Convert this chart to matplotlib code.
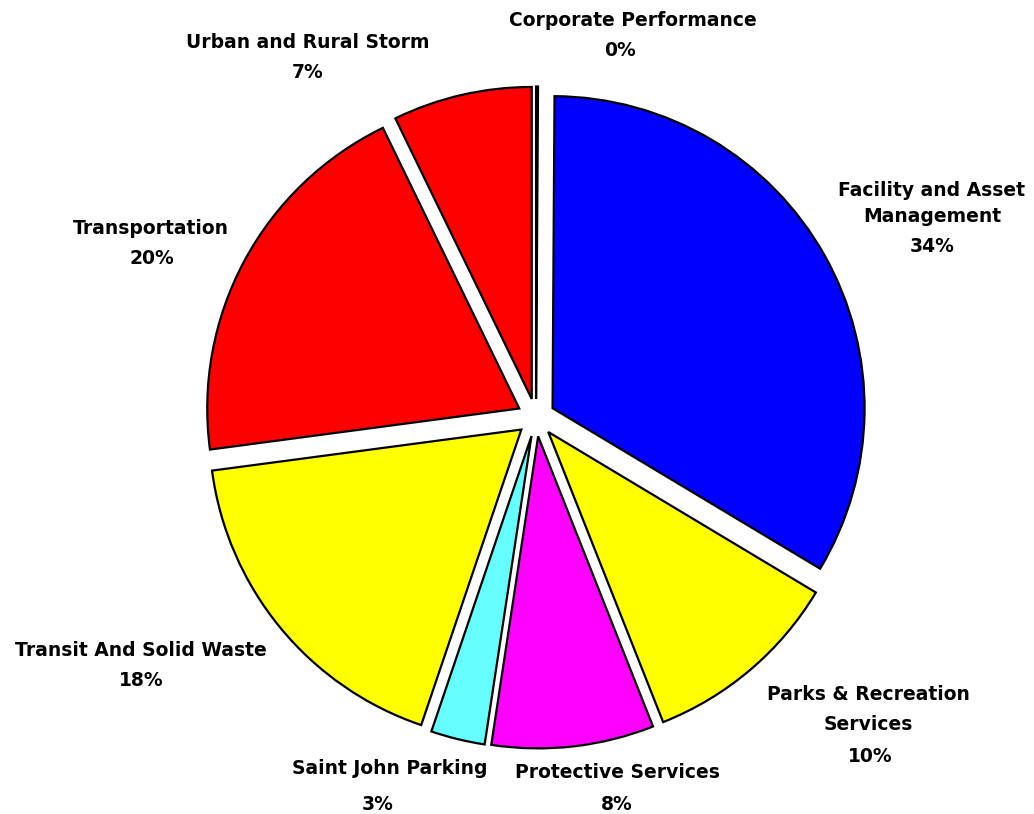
import matplotlib
matplotlib.use("Agg")
import matplotlib.pyplot as plt

# ---- data ----
categories = ["Corporate Performance", "Facility and Asset Management",
              "Parks & Recreation Services", "Protective Services",
              "Saint John Parking", "Transit And Solid Waste",
              "Transportation", "Urban and Rural Storm"]
values = [0.1, 33.5, 10.4, 8.4, 2.8, 17.7, 19.9, 7.2]
colors = ["#FFFFFF", "#0000FF", "#FFFF00", "#FF00FF", "#66FFFF",
          "#FFFF00", "#FF0000", "#FF0000"]

# label line breaks and positions (pixel coords, top-left origin)
label_lines = [["Corporate Performance"],
               ["Facility and Asset", "Management"],
               ["Parks & Recreation", "Services"],
               ["Protective Services"],
               ["Saint John Parking"],
               ["Transit And Solid Waste"],
               ["Transportation"],
               ["Urban and Rural Storm"]]
label_pos = [[(633, 20), (620, 51)],
             [(932, 190), (932, 217), (932, 247)],
             [(868, 695), (868, 725), (870, 756)],
             [(617, 773), (617, 804)],
             [(390, 769), (378, 805)],
             [(141, 650), (141, 681)],
             [(151, 228), (152, 258)],
             [(308, 42), (308, 73)]]

W, H = 1034, 814
fig = plt.figure(figsize=(W / 100, H / 100), dpi=100)
ax = fig.add_axes([0, 0, 1, 1])

cx, cy, R = 536, H - 417.5, 312
ax.pie(values, colors=colors, startangle=90, counterclock=False,
       explode=[19] * len(values), center=(cx, cy), radius=R,
       wedgeprops=dict(edgecolor="black", linewidth=1.6),
       frame=True)
ax.set_xlim(0, W)
ax.set_ylim(0, H)
ax.set_aspect("equal")
ax.axis("off")

for lines, pos, v in zip(label_lines, label_pos, values):
    texts = lines + [f"{round(v)}%"]
    for t, (x, y) in zip(texts, pos):
        ax.text(x, H - y, t, ha="center", va="center", fontsize=13.5,
                fontweight="bold", family="DejaVu Sans", color="black")

fig.savefig("out.png", dpi=100)
